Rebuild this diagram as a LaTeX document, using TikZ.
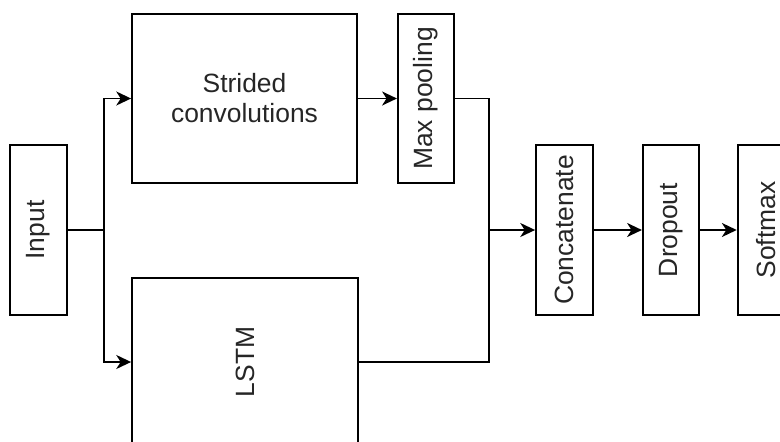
\documentclass[tikz,border=0pt]{standalone}
\usepackage{graphicx}
\usepackage{fontspec}
\setmainfont{Liberation Sans}
\usepackage{tikz}
\usetikzlibrary{arrows.meta, positioning}
\tikzstyle{block} = [rectangle, draw, line width=1.3pt, text=black!85,
    align=center, inner sep=0pt,
    font=\fontsize{18.8}{21.3}\selectfont]
\tikzstyle{layer} = [block, minimum width=1.425cm, minimum height=4.25cm]
\tikzstyle{wire} = [line width=1.3pt]
\tikzstyle{arrow} = [wire, -{Stealth[length=3.7mm, width=3.5mm, inset=1.1mm]}]

\begin{document}
\begin{tikzpicture}
    \useasboundingbox (0,0) rectangle (19.5,-11.05);

    % Input and the two branches
    \node[layer] (input) at (0.9625,-5.75) {\rotatebox{90}{Input}};
    \node[block, minimum width=5.625cm, minimum height=4.225cm] (conv) at (6.1125,-2.4625) {Strided\\convolutions};
    \node[layer, right=0.975cm of conv, minimum width=1.4cm, minimum height=4.225cm] (pool) {\rotatebox{90}{Max pooling}};
    \node[block, minimum width=5.65cm, minimum height=4.2cm] (lstm) at (6.125,-9.05) {\rotatebox{90}{LSTM}};

    % Output head
    \node[layer] (concat) at (14.1125,-5.75) {\rotatebox{90}{Concatenate}};
    \node[layer, right=1.2cm of concat, minimum width=1.4cm] (dropout) {\rotatebox{90}{Dropout}};
    \node[layer, right=0.925cm of dropout] (softmax) {\rotatebox{90}{Softmax}};

    \coordinate (split) at (2.6,-5.75);
    \coordinate (merge) at (12.225,-5.75);

    \draw[wire] (input) -- (split);
    \draw[arrow] (split) |- (conv);
    \draw[arrow] (split) |- (lstm);
    \draw[arrow] (conv) -- (pool);
    \draw[wire] (pool) -| (merge);
    \draw[wire] (lstm) -| (merge);
    \draw[arrow] (merge) -- (concat);
    \draw[arrow] (concat) -- (dropout);
    \draw[arrow] (dropout) -- (softmax);
\end{tikzpicture}
\end{document}
